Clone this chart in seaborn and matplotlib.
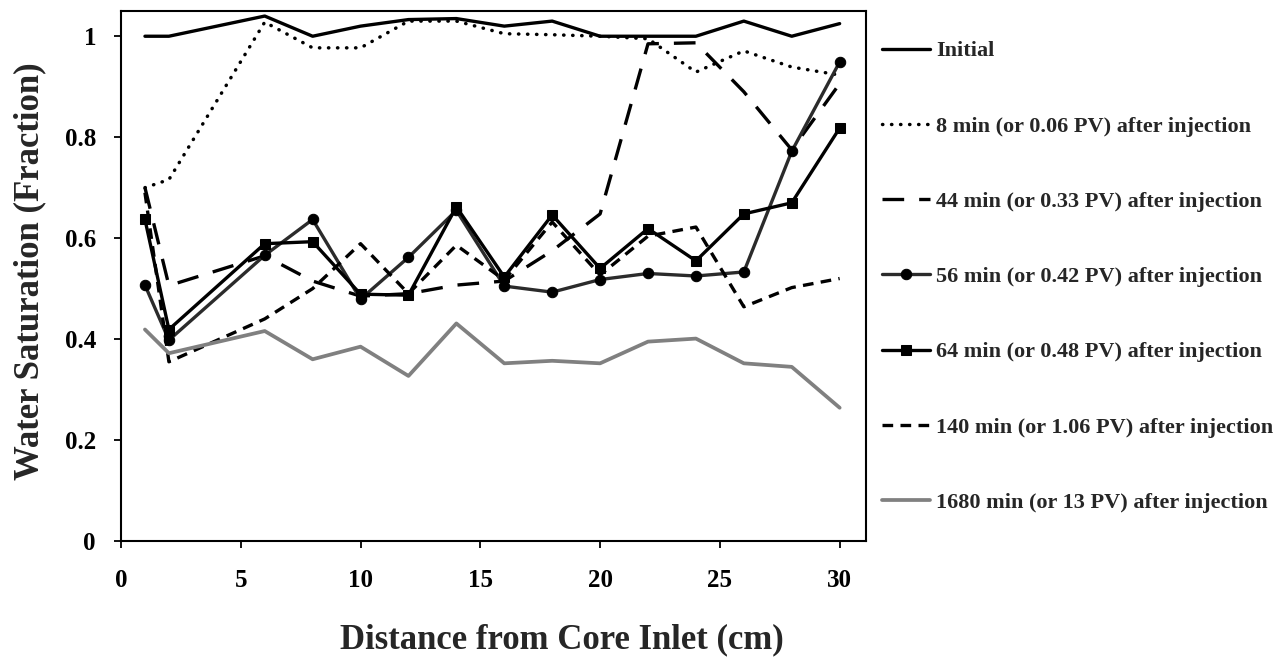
import matplotlib
matplotlib.use("Agg")
import matplotlib.pyplot as plt
import seaborn as sns
import pandas as pd

# Sampling positions along the core (cm)
distance = [1, 2, 6, 8, 10, 12, 14, 16, 18, 20, 22, 24, 26, 28, 30]

# Water saturation profiles (fraction)
sw_initial = [1.00, 1.00, 1.04, 1.00, 1.02, 1.033, 1.035, 1.02, 1.03, 1.00, 1.00, 1.00, 1.03, 1.00, 1.025]
sw_8min = [0.70, 0.716, 1.028, 0.977, 0.977, 1.03, 1.03, 1.005, 1.003, 1.00, 0.995, 0.929, 0.971, 0.939, 0.923]
sw_44min = [0.70, 0.506, 0.565, 0.515, 0.485, 0.49, 0.507, 0.515, 0.575, 0.648, 0.985, 0.987, 0.89, 0.775, 0.906]
sw_56min = [0.507, 0.398, 0.566, 0.637, 0.479, 0.562, 0.655, 0.505, 0.493, 0.518, 0.530, 0.525, 0.533, 0.772, 0.949]
sw_64min = [0.637, 0.419, 0.589, 0.593, 0.489, 0.487, 0.662, 0.523, 0.646, 0.540, 0.619, 0.555, 0.648, 0.670, 0.818]
sw_140min = [0.69, 0.355, 0.44, 0.50, 0.589, 0.49, 0.586, 0.517, 0.632, 0.527, 0.604, 0.622, 0.464, 0.502, 0.520]
sw_1680min = [0.419, 0.372, 0.416, 0.360, 0.385, 0.327, 0.431, 0.352, 0.357, 0.352, 0.395, 0.401, 0.352, 0.345, 0.264]

series_labels = [
    "Initial",
    "8 min (or 0.06 PV) after injection",
    "44 min (or 0.33 PV) after injection",
    "56 min (or 0.42 PV) after injection",
    "64 min (or 0.48 PV) after injection",
    "140 min (or 1.06 PV) after injection",
    "1680 min (or 13 PV) after injection",
]
series_values = [sw_initial, sw_8min, sw_44min, sw_56min, sw_64min, sw_140min, sw_1680min]

x_ticks = [0, 5, 10, 15, 20, 25, 30]
y_ticks = [0, 0.2, 0.4, 0.6, 0.8, 1.0]
y_tick_labels = ["0", "0.2", "0.4", "0.6", "0.8", "1"]

sns.set_theme(style="ticks")
plt.rcParams["font.family"] = ["Liberation Serif", "DejaVu Serif"]
plt.rcParams["font.weight"] = "bold"

styles = [
    dict(color="black", lw=2.4, ls="-"),
    dict(color="black", lw=2.5, ls=(0, (0.1, 2.5)), dash_capstyle="round"),
    dict(color="black", lw=2.4, ls=(0, (6.5, 4.5))),
    dict(color="#2b2b2b", lw=2.4, ls="-", marker="o", markersize=7.5,
         markeredgecolor="black", markerfacecolor="black"),
    dict(color="black", lw=2.4, ls="-", marker="s", markersize=6.5,
         markeredgecolor="black", markerfacecolor="black"),
    dict(color="black", lw=2.4, ls=(0, (3.2, 2.2))),
    dict(color="#808080", lw=2.7, ls="-"),
]

fig = plt.figure(figsize=(12.87, 6.64), dpi=100)
ax = fig.add_axes([121 / 1287, 1 - 541 / 664, (866 - 121) / 1287, (541 - 11) / 664])

for label, values, st in zip(series_labels, series_values, styles):
    df = pd.DataFrame({"Distance": distance, "Sw": values})
    sns.lineplot(data=df, x="Distance", y="Sw", ax=ax, label=label,
                 sort=False, errorbar=None, **st)

ax.set_xlim(0, 31.1)
ax.set_ylim(0, 1.05)
ax.set_xticks(x_ticks)
ax.set_xticklabels([str(t) for t in x_ticks])
ax.set_yticks(y_ticks)
ax.set_yticklabels(y_tick_labels)
ax.tick_params(axis="x", direction="out", length=5, width=1.3, labelsize=18,
               colors="black", pad=15)
ax.tick_params(axis="y", direction="out", length=5, width=1.3, labelsize=18,
               colors="black", pad=13)
for lab in ax.get_xticklabels() + ax.get_yticklabels():
    lab.set_fontweight("bold")
for side in ["left", "right", "top", "bottom"]:
    ax.spines[side].set_visible(True)
    ax.spines[side].set_color("black")
    ax.spines[side].set_linewidth(1.5)

ax.set_xlabel("Distance from Core Inlet (cm)", fontsize=25, fontweight="bold")
ax.set_ylabel("Water Saturation (Fraction)", fontsize=25, fontweight="bold")
ax.xaxis.set_label_coords(0.592, -0.187)
ax.xaxis.label.set_va("center")
ax.yaxis.set_label_coords(-0.122, 0.51)
ax.yaxis.label.set_va("center")

ax.legend(loc="upper left", bbox_to_anchor=(873 / 1287, 1 - 32 / 664),
          bbox_transform=fig.transFigure, frameon=False,
          prop={"family": "Liberation Serif", "weight": "bold", "size": 16},
          handlelength=2.16, handletextpad=0.27, labelspacing=2.46, borderaxespad=0)

fig.savefig("out.png", dpi=100)
